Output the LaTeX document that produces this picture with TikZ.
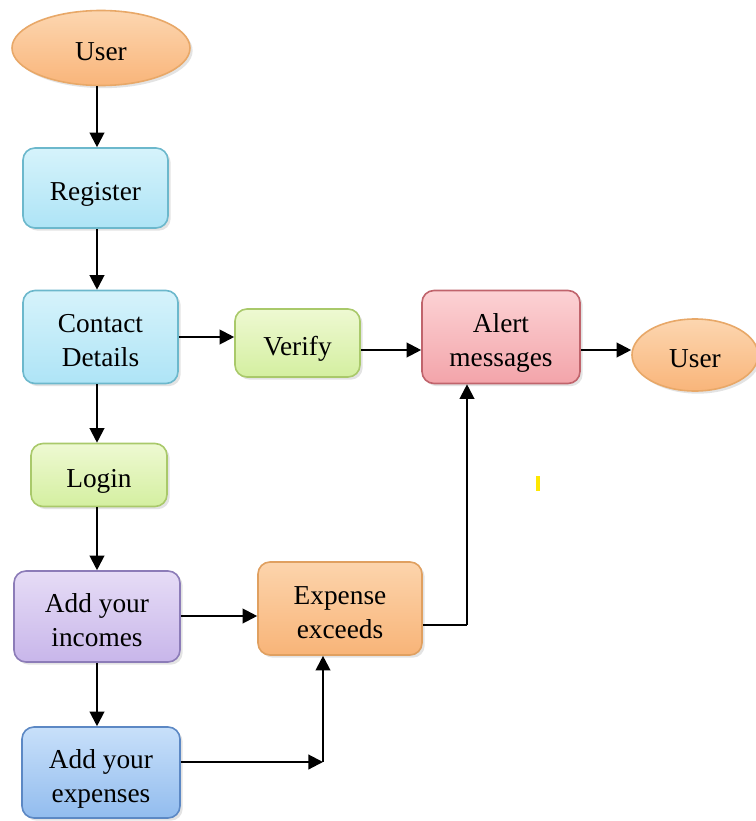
\documentclass[tikz,border=0pt]{standalone}
\usepackage{fontspec}
\setmainfont{Liberation Serif}
\usetikzlibrary{shapes.geometric,arrows.meta,shadows}
\newcommand\tx[1]{\raisebox{-9.5pt}[0pt][0pt]{\begin{tabular}{@{}c@{}}#1\end{tabular}}}
\begin{document}
\begin{tikzpicture}[x=0.75pt,y=-0.75pt,
  every node/.style={font=\fontsize{20.5}{25.5}\selectfont, align=center, inner sep=0pt},
  box/.style={rounded corners=9pt, line width=1.2pt, drop shadow={opacity=0.22, shadow xshift=2pt, shadow yshift=-2pt}},
  oval/.style={ellipse, line width=1.2pt, draw=ellB, top color=ellT, bottom color=ellBo, drop shadow={opacity=0.22, shadow xshift=2pt, shadow yshift=-2pt}},
  cyanbox/.style={box, draw=cyB, top color=cyT, bottom color=cyBo},
  greenbox/.style={box, draw=grB, top color=grT, bottom color=grBo},
  redbox/.style={box, draw=rdB, top color=rdT, bottom color=rdBo},
  purplebox/.style={box, draw=puB, top color=puT, bottom color=puBo},
  orangebox/.style={box, draw=orB, top color=orT, bottom color=orBo},
  bluebox/.style={box, draw=blB, top color=blT, bottom color=blBo},
  arr/.style={line width=1.6pt, -{Triangle[length=11pt,width=11pt]}},
  ln/.style={line width=1.6pt}
]
\definecolor{ellB}{HTML}{E8A868}\definecolor{ellT}{HTML}{FCD6B0}\definecolor{ellBo}{HTML}{F9B57A}
\definecolor{cyB}{HTML}{6CB8CC}\definecolor{cyT}{HTML}{D6F3FB}\definecolor{cyBo}{HTML}{AEE4F6}
\definecolor{grB}{HTML}{A9C96A}\definecolor{grT}{HTML}{EEF9D2}\definecolor{grBo}{HTML}{D4EFA0}
\definecolor{rdB}{HTML}{C0646C}\definecolor{rdT}{HTML}{FCD2D4}\definecolor{rdBo}{HTML}{F3A4AA}
\definecolor{puB}{HTML}{8C7CB8}\definecolor{puT}{HTML}{E6DCF6}\definecolor{puBo}{HTML}{C8B6EA}
\definecolor{orB}{HTML}{E0A060}\definecolor{orT}{HTML}{FCD4AC}\definecolor{orBo}{HTML}{F8B478}
\definecolor{blB}{HTML}{5C88C4}\definecolor{blT}{HTML}{C8E0FA}\definecolor{blBo}{HTML}{92BCEE}
\useasboundingbox[fill=white] (0,0) rectangle (756,821);

\node[oval, minimum width=178*0.75pt, minimum height=75*0.75pt] (u1) at (101,48) {\tx{User}};
\node[cyanbox, minimum width=145*0.75pt, minimum height=80*0.75pt] (reg) at (95.5,188) {\tx{Register}};
\node[cyanbox, minimum width=155*0.75pt, minimum height=93*0.75pt] (con) at (100.5,337) {\tx{Contact\\Details}};
\node[greenbox, minimum width=125*0.75pt, minimum height=68*0.75pt] (ver) at (297.5,343) {\tx{Verify}};
\node[redbox, minimum width=158*0.75pt, minimum height=93*0.75pt] (al) at (501,337) {\tx{Alert\\messages}};
\node[oval, minimum width=126*0.75pt, minimum height=72*0.75pt] (u2) at (695,355) {\tx{User}};
\node[greenbox, minimum width=136*0.75pt, minimum height=63*0.75pt] (log) at (99,475) {\tx{Login}};
\node[purplebox, minimum width=166*0.75pt, minimum height=91*0.75pt] (inc) at (97,616.5) {\tx{Add your\\incomes}};
\node[orangebox, minimum width=164*0.75pt, minimum height=93*0.75pt] (exc) at (340,608.5) {\tx{Expense\\exceeds}};
\node[bluebox, minimum width=158*0.75pt, minimum height=91*0.75pt] (exp) at (101,772.5) {\tx{Add your\\expenses}};

\coordinate (c1) at (323,762);
\coordinate (c2) at (467,625);

\draw[arr] (u1.south -| 97,0) -- (reg.north -| 97,0);
\draw[arr] (reg.south -| 97,0) -- (con.north -| 97,0);
\draw[arr] (con.south -| 97,0) -- (log.north -| 97,0);
\draw[arr] (log.south -| 97,0) -- (inc.north -| 97,0);
\draw[arr] (inc.south -| 97,0) -- (exp.north -| 97,0);
\draw[arr] (con.east |- 0,337) -- (ver.west |- 0,337);
\draw[arr] (ver.east |- 0,350) -- (al.west |- 0,350);
\draw[arr] (al.east |- 0,350) -- (u2.west |- 0,350);
\draw[arr] (inc.east |- 0,616) -- (exc.west |- 0,616);
\draw[arr] (exp.east |- c1) -- (c1);
\draw[arr] (c1) -- (exc.south -| c1);
\draw[ln] (exc.east |- c2) -- (c2);
\draw[arr] (c2) -- (al.south -| c2);

\fill[yellow!90!orange] (535.5,476) rectangle (539.5,491);
\end{tikzpicture}
\end{document}
